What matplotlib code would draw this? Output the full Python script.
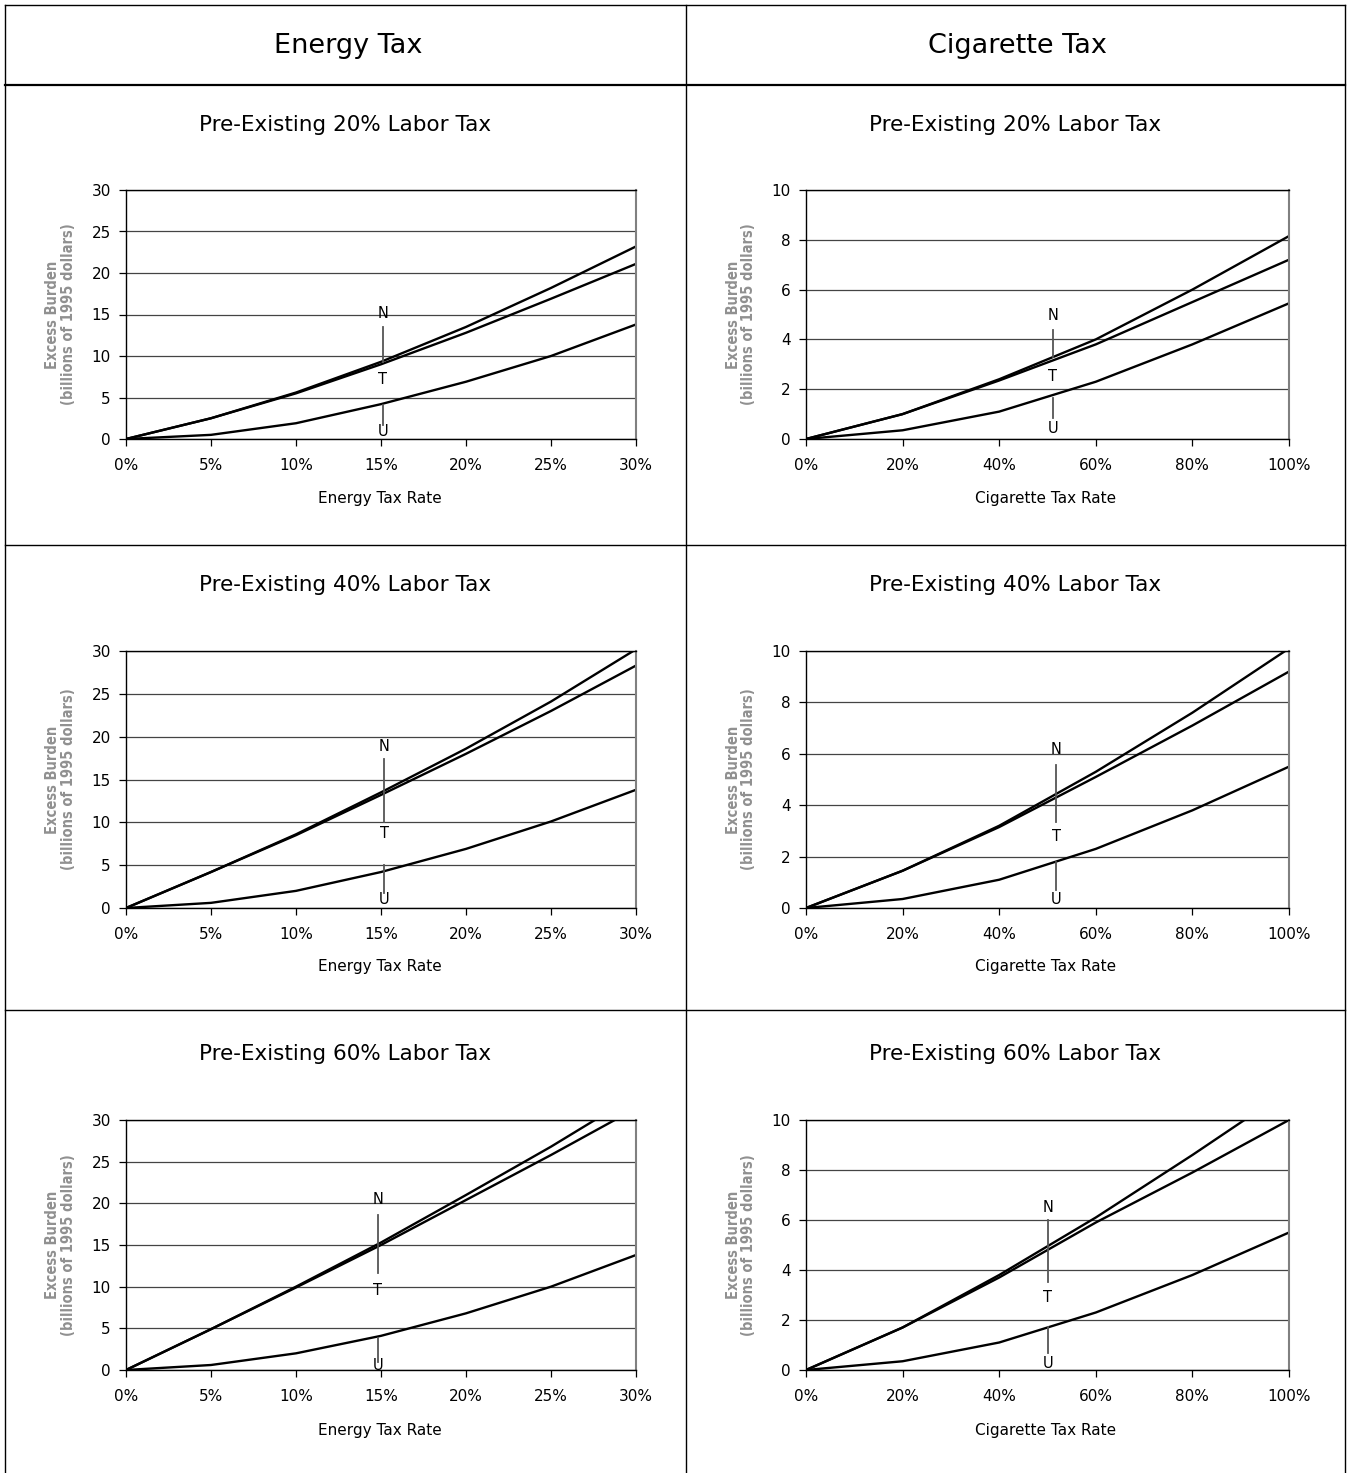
import numpy as np
import matplotlib
matplotlib.use("Agg")
import matplotlib.pyplot as plt
from matplotlib.lines import Line2D
from matplotlib.ticker import FuncFormatter

# ---- data ----
energy_rate = [0, 5, 10, 15, 20, 25, 30]
cig_rate = [0, 20, 40, 60, 80, 100]

labor_taxes = ["20%", "40%", "60%"]

energy_N = [[0, 2.5, 5.6, 9.3, 13.5, 18.2, 23.2],
            [0, 4.2, 8.6, 13.5, 18.6, 24.1, 30.2],
            [0, 4.9, 10.0, 15.3, 21.0, 26.8, 33.0]]
energy_T = [[0, 2.5, 5.5, 9.0, 12.8, 16.9, 21.1],
            [0, 4.2, 8.5, 13.2, 18.0, 23.0, 28.3],
            [0, 4.9, 9.9, 15.0, 20.4, 25.8, 31.4]]
energy_U = [[0, 0.5, 1.9, 4.2, 6.9, 10.0, 13.8],
            [0, 0.6, 2.0, 4.2, 6.9, 10.1, 13.8],
            [0, 0.6, 2.0, 4.1, 6.8, 10.0, 13.8]]

cig_N = [[0, 1.0, 2.4, 4.0, 6.0, 8.15],
         [0, 1.45, 3.2, 5.3, 7.6, 10.1],
         [0, 1.7, 3.8, 6.1, 8.6, 11.2]]
cig_T = [[0, 1.0, 2.35, 3.8, 5.5, 7.2],
         [0, 1.45, 3.15, 5.1, 7.1, 9.2],
         [0, 1.7, 3.7, 5.9, 7.9, 10.0]]
cig_U = [[0, 0.35, 1.1, 2.3, 3.8, 5.45],
         [0, 0.35, 1.1, 2.3, 3.8, 5.5],
         [0, 0.35, 1.1, 2.3, 3.8, 5.5]]

# N/T/U marker placement per panel (data units):
# x, N text, N line top, N line bottom, T text, U line top, U line bottom, U text
energy_marks = [(15.1, 15.1, 13.5, 9.3, 7.2, 4.1, 1.7, 0.95),
                (15.2, 18.9, 17.4, 10.0, 8.75, 5.0, 1.75, 1.05),
                (14.8, 20.4, 18.6, 11.6, 9.5, 3.85, 0.95, 0.6)]
cig_marks = [(51.1, 4.94, 4.38, 3.3, 2.53, 1.65, 0.84, 0.44),
             (51.8, 6.15, 5.56, 3.35, 2.8, 1.79, 0.7, 0.35),
             (50.1, 6.48, 6.0, 3.52, 2.92, 1.72, 0.68, 0.28)]

W, H = 1347, 1473
fig = plt.figure(figsize=(W / 100, H / 100), dpi=100)
fig.patch.set_facecolor("white")


def fx(px):
    return px / W


def fy(py):
    return 1 - py / H


# table grid
for yy, lw in [(5, 1.0), (85, 1.6), (545, 1.0), (1010, 1.0)]:
    fig.add_artist(Line2D([fx(5), fx(1345)], [fy(yy), fy(yy)], color="black", lw=lw))
for xx in [5, 686, 1345]:
    fig.add_artist(Line2D([fx(xx), fx(xx)], [fy(5), fy(1473)], color="black", lw=1.0))

fig.text(fx(348), fy(46), "Energy Tax", ha="center", va="center", fontsize=19.5)
fig.text(fx(1017), fy(46), "Cigarette Tax", ha="center", va="center", fontsize=19.5)

row_top = [190, 651, 1120]
row_bot = [439, 908, 1370]
title_y = [125, 585, 1054]
xlab_y = [498, 967, 1430]

cols = [
    dict(x0=126, x1=636, xlab="Energy Tax Rate", rate=energy_rate, N=energy_N, T=energy_T,
         U=energy_U, xmax=30, ymax=30, ystep=5, xstep=5, title_x=345, xlab_x=380,
         marks=energy_marks),
    dict(x0=806, x1=1289, xlab="Cigarette Tax Rate", rate=cig_rate, N=cig_N, T=cig_T,
         U=cig_U, xmax=100, ymax=10, ystep=2, xstep=20, title_x=1015, xlab_x=1046,
         marks=cig_marks),
]

mark_col = "#555555"

for c in cols:
    for r in range(3):
        ax = fig.add_axes([fx(c["x0"]), fy(row_bot[r]), fx(c["x1"] - c["x0"]),
                           (row_bot[r] - row_top[r]) / H])
        ax.plot(c["rate"], c["N"][r], color="black", lw=1.7, solid_capstyle="butt")
        ax.plot(c["rate"], c["T"][r], color="black", lw=1.7, solid_capstyle="butt")
        ax.plot(c["rate"], c["U"][r], color="black", lw=1.7, solid_capstyle="butt")
        ax.set_xlim(0, c["xmax"])
        ax.set_ylim(0, c["ymax"])
        ax.set_xticks(np.arange(0, c["xmax"] + 0.1, c["xstep"]))
        ax.set_yticks(np.arange(0, c["ymax"] + 0.1, c["ystep"]))
        ax.xaxis.set_major_formatter(FuncFormatter(lambda v, p: "%d%%" % round(v)))
        ax.yaxis.grid(True, color="#444444", lw=0.9)
        ax.set_axisbelow(True)
        ax.tick_params(direction="out", length=5, width=0.9, labelsize=11)
        ax.tick_params(axis="x", pad=9)
        ax.tick_params(axis="y", pad=6)
        for s in ["left", "bottom", "top"]:
            ax.spines[s].set_color("black")
            ax.spines[s].set_linewidth(1.0)
        ax.spines["right"].set_color("#808080")
        ax.spines["right"].set_linewidth(1.5)
        ax.set_ylabel("Excess Burden\n(billions of 1995 dollars)", fontsize=10.5,
                      color="#909090", labelpad=11, linespacing=1.05,
                      fontweight="bold", fontstretch="condensed")

        # N / T / U markers
        mx, n_t, n_a, n_b, t_t, u_a, u_b, u_t = c["marks"][r]
        ax.text(mx, n_t, "N", ha="center", va="center", fontsize=10.5)
        ax.plot([mx, mx], [n_a, n_b], color=mark_col, lw=1.3)
        ax.text(mx, t_t, "T", ha="center", va="center", fontsize=10.5)
        ax.plot([mx, mx], [u_a, u_b], color=mark_col, lw=1.3)
        ax.text(mx, u_t, "U", ha="center", va="center", fontsize=10.5)

        fig.text(fx(c["title_x"]), fy(title_y[r]),
                 "Pre-Existing %s Labor Tax" % labor_taxes[r],
                 ha="center", va="center", fontsize=15.5)
        fig.text(fx(c["xlab_x"]), fy(xlab_y[r]), c["xlab"], ha="center", va="center",
                 fontsize=11)

fig.savefig("out.png", dpi=100, facecolor="white")
